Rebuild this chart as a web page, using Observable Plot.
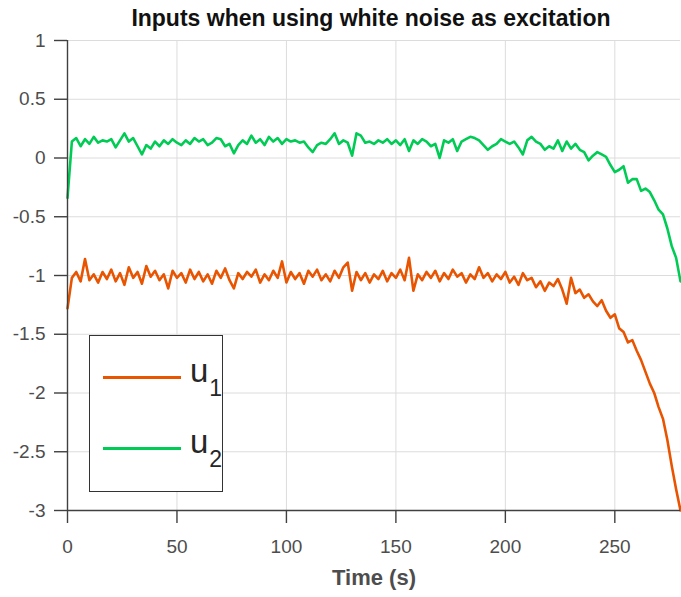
<!DOCTYPE html>
<html>
<head>
<meta charset="utf-8">
<script src="https://cdn.jsdelivr.net/npm/d3@7"></script>
<script src="https://cdn.jsdelivr.net/npm/@observablehq/plot@0.6"></script>
<style>
  html, body { margin: 0; padding: 0; background: #fff; }
  #wrap { position: relative; width: 681px; height: 597px; font-family: "Liberation Sans", Arial, sans-serif; }
  #legend { position: absolute; left: 89px; top: 335px; width: 134px; height: 157px; box-sizing: border-box; border: 1.5px solid #333; background: #fff; }
  .lg-line { position: absolute; left: 13px; width: 78px; height: 2.5px; }
  .lg-text { position: absolute; left: 100px; font-size: 33px; color: #262626; line-height: 1; }
  .lg-text sub { font-size: 23px; position: relative; top: 14px; vertical-align: baseline; margin-left: 1px; }
</style>
</head>
<body>
<div id="wrap"></div>
<script>
// Sample times (s): one sample every 2 s from 0 to 280
const timeStep = 2;
const timeMax = 280;

// u1 (orange) values
const u1 = [
 -1.28,-1.02,-0.97,-1.05,-0.86,-1.04,-0.99,-1.06,-0.97,-1.03,
 -0.95,-1.05,-0.98,-1.08,-0.93,-1.02,-0.97,-1.07,-0.92,-1.01,
 -0.96,-1.04,-0.99,-1.11,-0.96,-1.02,-0.98,-1.06,-0.95,-1.03,
 -0.97,-1.05,-0.99,-1.07,-0.96,-1.02,-0.94,-1.04,-1.11,-0.98,
 -1.03,-0.97,-1.01,-0.95,-1.06,-0.99,-1.04,-0.96,-1.02,-0.88,
 -1.06,-0.97,-1.03,-0.98,-1.07,-0.96,-1.01,-0.95,-1.04,-0.99,
 -1.05,-0.96,-1.02,-0.93,-0.89,-1.13,-0.97,-1.04,-0.98,-1.06,
 -0.99,-1.03,-0.96,-1.05,-0.98,-1.02,-0.95,-1.04,-0.85,-1.13,
 -0.99,-1.04,-0.97,-1.02,-0.96,-1.05,-0.98,-1.03,-0.95,-1.01,
 -0.98,-1.06,-0.99,-1.03,-0.93,-1.02,-0.98,-1.05,-0.99,-1.03,
 -0.97,-1.06,-1.01,-1.08,-0.98,-1.04,-1.02,-1.10,-1.05,-1.13,
 -1.06,-1.09,-1.03,-1.12,-1.24,-1.02,-1.15,-1.12,-1.19,-1.16,
 -1.22,-1.26,-1.21,-1.30,-1.36,-1.33,-1.45,-1.48,-1.57,-1.55,
 -1.64,-1.72,-1.82,-1.92,-2.00,-2.12,-2.22,-2.40,-2.62,-2.82,
 -3.00
];

// u2 (green) values
const u2 = [
 -0.34, 0.14, 0.17, 0.10, 0.16, 0.12, 0.18, 0.13, 0.15, 0.14,
  0.16, 0.09, 0.15, 0.21, 0.14, 0.17, 0.10, 0.03, 0.11, 0.08,
  0.14, 0.10, 0.15, 0.12, 0.16, 0.13, 0.11, 0.15, 0.12, 0.17,
  0.14, 0.16, 0.11, 0.13, 0.17, 0.16, 0.10, 0.12, 0.04, 0.11,
  0.15, 0.12, 0.19, 0.13, 0.16, 0.11, 0.18, 0.14, 0.17, 0.12,
  0.16, 0.14, 0.15, 0.13, 0.14, 0.09, 0.05, 0.11, 0.13, 0.12,
  0.16, 0.21, 0.12, 0.15, 0.13, 0.02, 0.21, 0.19, 0.13, 0.14,
  0.12, 0.15, 0.13, 0.16, 0.12, 0.15, 0.11, 0.16, 0.06, 0.15,
  0.12, 0.16, 0.14, 0.10, 0.12, 0.00, 0.15, 0.13, 0.16, 0.06,
  0.14, 0.16, 0.18, 0.17, 0.15, 0.11, 0.07, 0.10, 0.12, 0.16,
  0.14, 0.12, 0.14, 0.09, 0.03, 0.15, 0.18, 0.14, 0.12, 0.07,
  0.10, 0.08, 0.15, 0.06, 0.14, 0.08, 0.12, 0.07, 0.05,-0.02,
  0.02, 0.05, 0.03, 0.01,-0.06,-0.12,-0.10,-0.07,-0.21,-0.18,
 -0.18,-0.28,-0.26,-0.29,-0.36,-0.44,-0.48,-0.60,-0.75,-0.85,
 -1.05
];

const seriesNames = ["u1", "u2"];
const seriesColors = ["#e85400", "#00cc55"];
const xTicks = [0, 50, 100, 150, 200, 250];
const yTicks = [-3, -2.5, -2, -1.5, -1, -0.5, 0, 0.5, 1];
const yTickLabels = ["-3", "-2.5", "-2", "-1.5", "-1", "-0.5", "0", "0.5", "1"];
const titleText = "Inputs when using white noise as excitation";
const xLabel = "Time (s)";

const times = d3.range(0, timeMax + timeStep / 2, timeStep);
const rows = [];
[u1, u2].forEach((vals, i) => vals.forEach((v, j) => rows.push({t: times[j], v, s: seriesNames[i]})));

const axisColor = "#404040";
const textColor = "#4d4d4d";

const chart = Plot.plot({
  width: 681,
  height: 597,
  marginLeft: 67,
  marginRight: 1,
  marginTop: 40,
  marginBottom: 87,
  style: {fontFamily: "'Liberation Sans', Arial, sans-serif", fontSize: "19px", color: textColor, background: "#fff"},
  x: {domain: [0, 280]},
  y: {domain: [-3, 1]},
  color: {domain: seriesNames, range: seriesColors},
  marks: [
    Plot.gridX(xTicks.filter(d => d > 0), {stroke: "#dcdcdc", strokeOpacity: 1, strokeWidth: 1}),
    Plot.gridY(yTicks.filter(d => d > -3), {stroke: "#dcdcdc", strokeOpacity: 1, strokeWidth: 1}),
    Plot.line(rows, {x: "t", y: "v", z: "s", stroke: "s", strokeWidth: 2.6, strokeLinejoin: "round"}),
    Plot.axisX({ticks: xTicks, tickSize: 13, tickPadding: 16, stroke: axisColor, strokeWidth: 1.4, fill: textColor, label: null}),
    Plot.axisY({ticks: yTicks, tickFormat: (d) => yTickLabels[yTicks.indexOf(d)], tickSize: 13, tickPadding: 9, stroke: axisColor, strokeWidth: 1.4, fill: textColor, label: null}),
    Plot.ruleX([0], {stroke: axisColor, strokeWidth: 1.4}),
    Plot.ruleY([-3], {stroke: axisColor, strokeWidth: 1.4}),
    Plot.text([titleText], {text: d => d, frameAnchor: "top", lineAnchor: "middle", dy: -22, dx: -3, fontWeight: "bold", fontSize: 23, fill: "#111"}),
    Plot.text([xLabel], {text: d => d, frameAnchor: "bottom", lineAnchor: "middle", dy: 67, fontWeight: "bold", fontSize: 22, fill: textColor})
  ]
});

const wrap = document.getElementById("wrap");
wrap.appendChild(chart);

// Legend
const legend = document.createElement("div");
legend.id = "legend";
const legendRows = [{y: 40}, {y: 111}];
seriesNames.forEach((name, i) => {
  const line = document.createElement("div");
  line.className = "lg-line";
  line.style.top = (legendRows[i].y) + "px";
  line.style.background = seriesColors[i];
  legend.appendChild(line);
  const txt = document.createElement("div");
  txt.className = "lg-text";
  txt.style.top = (legendRows[i].y - 22) + "px";
  txt.innerHTML = name.slice(0, 1) + "<sub>" + name.slice(1) + "</sub>";
  legend.appendChild(txt);
});
wrap.appendChild(legend);
</script>
</body>
</html>
